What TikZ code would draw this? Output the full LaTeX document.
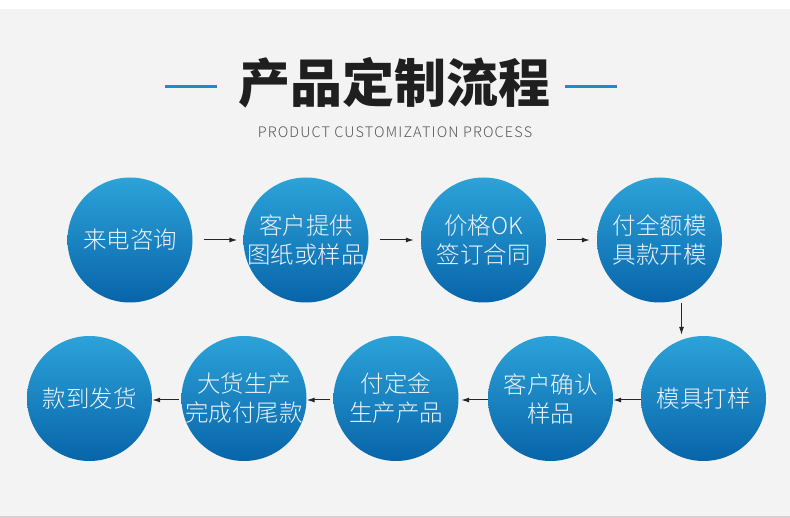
\documentclass[tikz,border=0pt]{standalone}
\usepackage{fontspec}
\setmainfont{Noto Sans CJK SC}
\newfontfamily\cjklight{Noto Sans CJK SC Light}
\newfontfamily\sublight[LetterSpace=7.9]{Noto Sans CJK SC Light}
\usetikzlibrary{arrows.meta,calc}
\definecolor{bgc}{HTML}{F3F3F3}
\definecolor{pinkc}{HTML}{DCCDD2}
\definecolor{ctop}{HTML}{2CA3D9}
\definecolor{cbot}{HTML}{0864A9}
\definecolor{ctext}{HTML}{EEF3F8}
\definecolor{barc}{HTML}{1A8DCD}
\definecolor{subc}{HTML}{555555}
\tikzset{
  stepcircle/.style={circle, minimum size=125pt, inner sep=0pt, top color=ctop, bottom color=cbot, draw=none},
  steptext/.style={text=ctext, font=\cjklight\fontsize{23.5}{29}\selectfont, align=center, inner sep=0pt},
  arr/.style={draw=black!85, line width=1pt, -{Latex[length=8pt,width=5pt]}},
  bar/.style={draw=barc, line width=3pt}
}
\begin{document}
\begin{tikzpicture}[x=1pt,y=-1pt]
\fill[white] (0,0) rectangle (790,518);
\fill[bgc] (0,9) rectangle (790,516);
\fill[pinkc] (0,516) rectangle (790,518);
\useasboundingbox (0,0) rectangle (790,518);

% title
\node[font=\bfseries\fontsize{52}{60}\selectfont, text=black!88, inner sep=0pt] (title) at (394,83) {产品定制流程};
\coordinate (bl1) at (165,87); \coordinate (bl2) at (217,87);
\coordinate (br1) at (565,87); \coordinate (br2) at (617,87);
\draw[bar] (bl1) -- (bl2);
\draw[bar] (br1) -- (br2);
\node[font=\sublight\fontsize{14.5}{16}\selectfont, text=subc, inner sep=0pt] (sub) at (395,132) {PRODUCT CUSTOMIZATION PROCESS};

% circles
\node[stepcircle] (c1) at (130,240) {};
\node[stepcircle] (c2) at (306,240) {};
\node[stepcircle] (c3) at (483.5,240) {};
\node[stepcircle] (c4) at (659.5,240) {};
\node[stepcircle] (c5) at (703.5,398.5) {};
\node[stepcircle] (c6) at (550.5,398.5) {};
\node[stepcircle] (c7) at (396,398.5) {};
\node[stepcircle] (c8) at (244,398.5) {};
\node[stepcircle] (c9) at (89.5,398.5) {};

\node[steptext] (t1) at (c1) {来电咨询};
\node[steptext] (t2) at (c2) {客户提供\\图纸或样品};
\node[steptext] (t3) at (c3) {价格OK\\签订合同};
\node[steptext] (t4) at (c4) {付全额模\\具款开模};
\node[steptext] (t5) at (c5) {模具打样};
\node[steptext] (t6) at (c6) {客户确认\\样品};
\node[steptext] (t7) at (c7) {付定金\\生产产品};
\node[steptext] (t8) at (c8) {大货生产\\完成付尾款};
\node[steptext] (t9) at (c9) {款到发货};

% arrows
\draw[arr, shorten <=11pt, shorten >=6pt] (c1) -- (c2);
\draw[arr, shorten <=11pt, shorten >=7pt] (c2) -- (c3);
\draw[arr, shorten <=11pt, shorten >=7pt] (c3) -- (c4);
\coordinate (m) at ($(c4.south)!0.5!(c5.north)$);
\draw[arr, shorten <=0.5pt, shorten >=1pt] (m |- c4.south) -- (m |- c5.north);
\draw[arr] ([yshift=-1.5pt]c5.west) -- ([yshift=-1.5pt]c6.east);
\draw[arr, shorten >=2.5pt] ([yshift=-1.5pt]c6.west) -- ([yshift=-1.5pt]c7.east);
\draw[arr, shorten <=3pt] ([yshift=-1.5pt]c7.west) -- ([yshift=-1.5pt]c8.east);
\draw[arr, shorten <=2.5pt] ([yshift=-1.5pt]c8.west) -- ([yshift=-1.5pt]c9.east);
\end{tikzpicture}
\end{document}
